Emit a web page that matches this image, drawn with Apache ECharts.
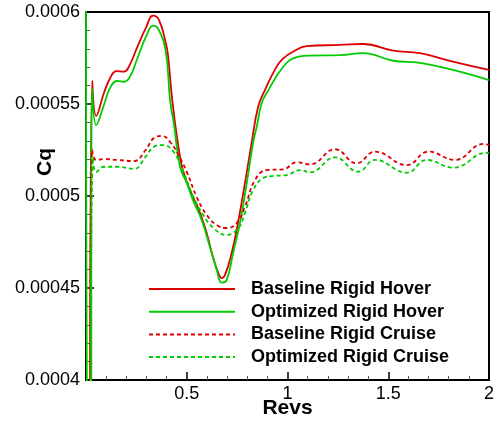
<!DOCTYPE html>
<html>
<head>
<meta charset="utf-8">
<script src="https://cdn.jsdelivr.net/npm/echarts@6/dist/echarts.min.js"></script>
<style>
  html, body { margin: 0; padding: 0; background: #fff; }
  #chart { width: 494px; height: 421px; }
</style>
</head>
<body>
<div id="chart"></div>
<script>
// ---- Data ----
const seriesNames = ['Baseline Rigid Hover', 'Optimized Rigid Hover', 'Baseline Rigid Cruise', 'Optimized Rigid Cruise'];

const revsBaseHover = [0.02, 0.031, 0.051, 0.089, 0.123, 0.150, 0.189, 0.213, 0.255, 0.296, 0.333, 0.362, 0.396, 0.407, 0.428, 0.4665, 0.491, 0.531, 0.566, 0.599, 0.630, 0.655, 0.673, 0.690, 0.723, 0.754, 0.789, 0.822, 0.854, 0.888, 0.946, 0.979, 1.027, 1.095, 1.261, 1.375, 1.524, 1.658, 1.821, 2.0];
const cqBaseHover = [0.00035, 0.0005625, 0.0005435, 0.000556, 0.0005648, 0.0005679, 0.0005676, 0.0005703, 0.0005811, 0.0005911, 0.000598, 0.0005957, 0.0005832, 0.0005766, 0.0005522, 0.0005212, 0.0005103, 0.0004995, 0.0004908, 0.0004799, 0.0004668, 0.0004587, 0.0004554, 0.0004571, 0.000469, 0.0004853, 0.0005071, 0.0005288, 0.0005484, 0.0005576, 0.0005703, 0.0005748, 0.0005784, 0.0005815, 0.0005821, 0.0005826, 0.000579, 0.0005776, 0.000573, 0.0005685];

const revsOptHover = [0.0, 0.006, 0.022, 0.031, 0.051, 0.089, 0.119, 0.154, 0.189, 0.218, 0.258, 0.298, 0.333, 0.362, 0.397, 0.417, 0.437, 0.4665, 0.4998, 0.531, 0.574, 0.615, 0.649, 0.673, 0.698, 0.730, 0.764, 0.798, 0.829, 0.847, 0.872, 0.897, 0.978, 1.046, 1.112, 1.261, 1.375, 1.524, 1.658, 1.821, 2.0];
const cqOptHover = [0.00065, 0.00035, 0.00035, 0.0005582, 0.0005386, 0.0005495, 0.0005587, 0.0005625, 0.0005621, 0.0005648, 0.0005757, 0.0005866, 0.0005926, 0.0005902, 0.0005777, 0.0005522, 0.0005386, 0.0005158, 0.0005071, 0.0004978, 0.000487, 0.0004723, 0.0004598, 0.0004529, 0.0004543, 0.000469, 0.0004853, 0.0005071, 0.0005288, 0.0005375, 0.0005505, 0.000556, 0.0005701, 0.0005755, 0.0005763, 0.0005766, 0.0005776, 0.0005735, 0.0005724, 0.0005685, 0.000563];

const revsBaseCruise = [0.02, 0.031, 0.050, 0.089, 0.154, 0.238, 0.296, 0.337, 0.377, 0.417, 0.4665, 0.4998, 0.549, 0.599, 0.649, 0.698, 0.748, 0.789, 0.839, 0.897, 0.979, 1.046, 1.112, 1.236, 1.343, 1.434, 1.592, 1.699, 1.831, 1.972, 2.0];
const cqBaseCruise = [0.00035, 0.000525, 0.0005196, 0.0005201, 0.0005196, 0.000519, 0.000525, 0.0005315, 0.0005326, 0.0005295, 0.0005207, 0.0005132, 0.0004996, 0.0004897, 0.0004842, 0.0004826, 0.0004853, 0.0004942, 0.0005087, 0.0005141, 0.0005145, 0.0005183, 0.0005172, 0.0005254, 0.0005178, 0.0005241, 0.0005168, 0.0005241, 0.0005196, 0.0005283, 0.0005277];

const revsOptCruise = [0.022, 0.035, 0.050, 0.089, 0.154, 0.238, 0.296, 0.337, 0.377, 0.428, 0.483, 0.5325, 0.582, 0.632, 0.698, 0.756, 0.789, 0.830, 0.880, 0.930, 0.996, 1.062, 1.112, 1.236, 1.351, 1.434, 1.592, 1.691, 1.823, 1.989, 2.0];
const cqOptCruise = [0.00035, 0.0005207, 0.000513, 0.0005159, 0.0005159, 0.0005147, 0.0005214, 0.0005268, 0.0005277, 0.000525, 0.0005132, 0.0004996, 0.0004897, 0.0004826, 0.0004788, 0.0004826, 0.0004908, 0.0005033, 0.0005098, 0.0005109, 0.0005114, 0.0005141, 0.0005129, 0.000521, 0.0005132, 0.0005196, 0.0005127, 0.0005196, 0.0005154, 0.0005235, 0.0005233];

const yTickLabels = ['0.0004', '0.00045', '0.0005', '0.00055', '0.0006'];
const xTickLabels = ['', '0.5', '1', '1.5', '2'];

// ---- Chart ----
const zip = (xs, ys) => xs.map((x, i) => [x, ys[i]]);
const RED = '#dd0000';
const GREEN = '#00cc00';
const FONT = "'Liberation Sans', Arial, Helvetica, sans-serif";

const chart = echarts.init(document.getElementById('chart'), null, { renderer: 'canvas' });

function mkSeries(name, xs, ys, color, dashed) {
  return {
    name: name,
    type: 'line',
    data: zip(xs, ys),
    showSymbol: false,
    symbol: 'none',
    smooth: 0.45,
    clip: true,
    animation: false,
    lineStyle: { color: color, width: 1.8, type: dashed ? [4, 3] : 'solid' },
    itemStyle: { color: color }
  };
}

chart.setOption({
  animation: false,
  backgroundColor: '#ffffff',
  grid: {
    left: 86, right: 5, top: 12, bottom: 41,
    containLabel: false, outerBoundsMode: 'none',
    show: true, borderColor: '#000', borderWidth: 2, backgroundColor: 'transparent'
  },
  xAxis: {
    type: 'value', min: 0, max: 2, interval: 0.5,
    name: 'Revs', nameLocation: 'middle', nameGap: 18, nameMoveOverlap: false,
    nameTextStyle: { fontFamily: FONT, fontSize: 21, fontWeight: 'bold', color: '#000' },
    axisLine: { show: true, lineStyle: { color: '#000', width: 2 } },
    axisTick: { show: true, inside: true, length: 8, lineStyle: { color: '#000', width: 1.5 } },
    minorTick: { show: true, splitNumber: 5, length: 4, lineStyle: { color: '#555', width: 1 } },
    splitLine: { show: false },
    axisLabel: {
      fontFamily: FONT, fontSize: 18, color: '#000', margin: 5, hideOverlap: false,
      formatter: v => xTickLabels[Math.round(v / 0.5)] ?? ''
    }
  },
  yAxis: {
    type: 'value', min: 0.0004, max: 0.0006, interval: 0.00005,
    name: 'Cq', nameLocation: 'middle', nameGap: 30, nameMoveOverlap: false,
    nameTextStyle: { fontFamily: FONT, fontSize: 21, fontWeight: 'bold', color: '#000', padding: [0, 0, 0, 68] },
    axisLine: { show: true, lineStyle: { color: '#000', width: 2 } },
    axisTick: { show: true, inside: true, length: 8, lineStyle: { color: '#000', width: 1.5 } },
    minorTick: { show: true, splitNumber: 5, length: 4, lineStyle: { color: '#555', width: 1 } },
    splitLine: { show: false },
    axisLabel: {
      fontFamily: FONT, fontSize: 18, color: '#000', margin: 6, hideOverlap: false,
      formatter: v => yTickLabels[Math.round((v - 0.0004) / 0.00005)] ?? ''
    }
  },
  legend: {
    orient: 'vertical', left: 148, top: 280, padding: 0,
    itemWidth: 86, itemHeight: 2, itemGap: 4.7,
    data: seriesNames,
    selectedMode: false,
    textStyle: { fontFamily: FONT, fontSize: 18, fontWeight: 'bold', color: '#000', lineHeight: 18, padding: [0, 0, 0, 11] }
  },
  series: [
    mkSeries(seriesNames[0], revsBaseHover, cqBaseHover, RED, false),
    mkSeries(seriesNames[1], revsOptHover, cqOptHover, GREEN, false),
    mkSeries(seriesNames[2], revsBaseCruise, cqBaseCruise, RED, true),
    mkSeries(seriesNames[3], revsOptCruise, cqOptCruise, GREEN, true)
  ]
});
</script>
</body>
</html>
